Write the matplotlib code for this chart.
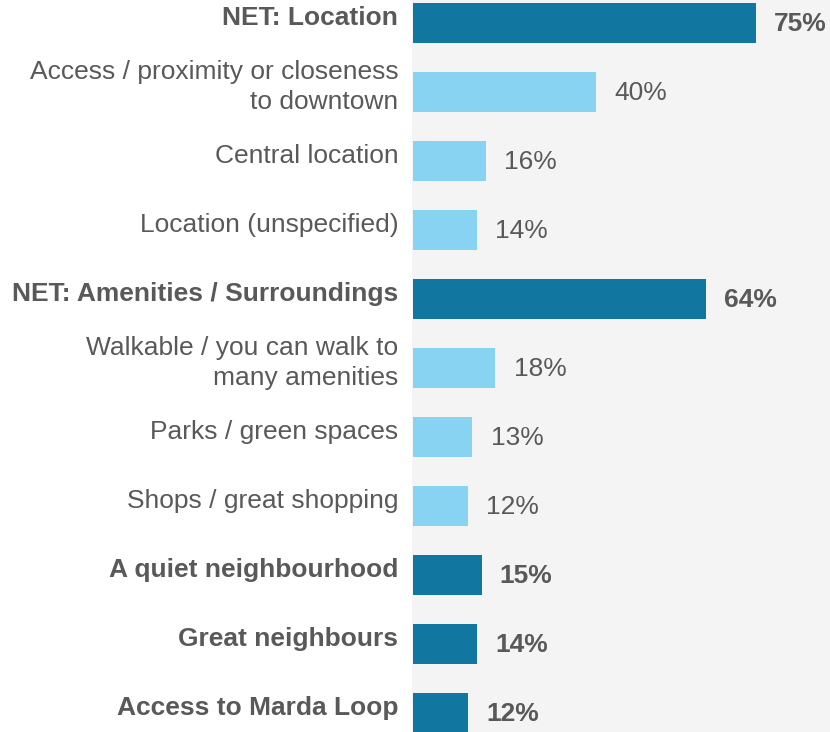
import matplotlib
matplotlib.use("Agg")
from matplotlib import pyplot as plt

labels = [
    "NET: Location",
    "Access / proximity or closeness\nto downtown",
    "Central location",
    "Location (unspecified)",
    "NET: Amenities / Surroundings",
    "Walkable / you can walk to\nmany amenities",
    "Parks / green spaces",
    "Shops / great shopping",
    "A quiet neighbourhood",
    "Great neighbours",
    "Access to Marda Loop",
]
values = [75, 40, 16, 14, 64, 18, 13, 12, 15, 14, 12]
is_net = [True, False, False, False, True, False, False, False, True, True, True]

dark = "#1277a0"
light = "#88d3f2"
text_color = "#595959"


def main():
    plt.rcParams['font.family'] = ['Liberation Sans', 'DejaVu Sans']

    fig = plt.figure(figsize=(8.3, 7.32), dpi=100)
    ax = fig.add_axes([412 / 830, 0, 418 / 830, 1])
    ax.set_facecolor("#f4f4f4")

    ypos = list(range(len(values)))
    colors = [dark if n else light for n in is_net]
    ax.barh(ypos, values, height=0.58, color=colors, left=0.2)

    for y, v, lab, n in zip(ypos, values, labels, is_net):
        weight = 'bold' if n else 'normal'
        ax.text(v + 0.2 + 4.0, y + 0.02, f"{v}%", va='center', ha='left', fontsize=19,
                color=text_color, fontweight=weight)
        ax.text(-3.0, y - 0.07, lab, va='center', ha='right', fontsize=19, color=text_color,
                fontweight=weight, linespacing=1.3, clip_on=False)

    ax.set_xlim(0, 91.4)
    ax.set_ylim(10.275, -0.333)
    ax.set_xticks([])
    ax.set_yticks([])
    for s in ax.spines.values():
        s.set_visible(False)

    plt.savefig("out.png", dpi=100)
    plt.close()


if __name__ == "__main__":
    main()
